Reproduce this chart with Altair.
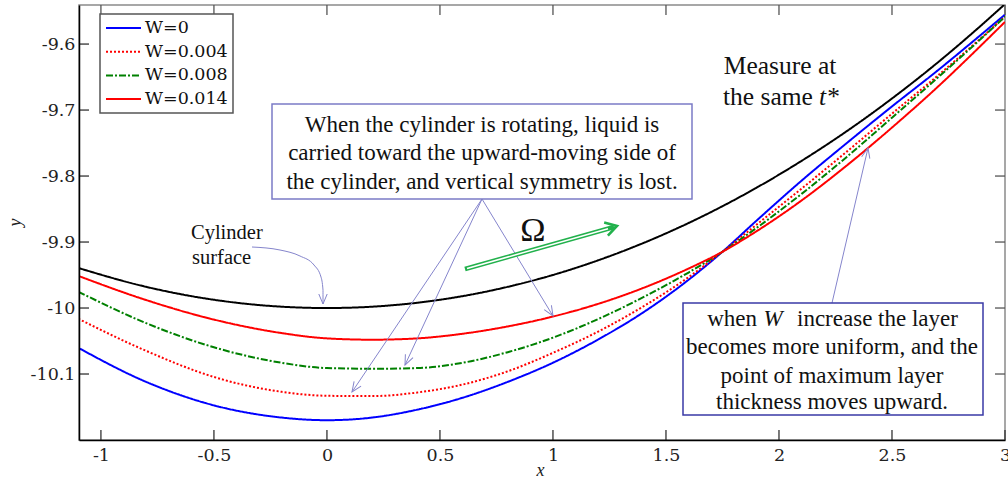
import math
import altair as alt
import pandas as pd

# ---------------- data ----------------
x_vals = [-1.1, -0.8, -0.5, -0.2, 0.0, 0.2, 0.4, 0.6, 0.8, 1.0, 1.2, 1.4, 1.6, 1.75,
          1.9, 2.1, 2.3, 2.5, 2.7, 2.9, 3.0]
y_surface = [-9.9393, -9.9679, -9.9875, -9.9980, -10.0000, -9.9980, -9.9920, -9.9820,
             -9.9679, -9.9499, -9.9277, -9.9015, -9.8712, -9.8457, -9.8178, -9.7770,
             -9.7320, -9.6825, -9.6286, -9.5701, -9.5394]
y_w0 = [-10.0603, -10.1119, -10.1475, -10.1660, -10.1700, -10.1660, -10.1540, -10.1360,
        -10.1119, -10.0829, -10.0477, -10.0065, -9.9572, -9.9147, -9.8678, -9.8070,
        -9.7500, -9.6945, -9.6406, -9.5841, -9.5554]
y_w004 = [-10.0163, -10.0649, -10.1045, -10.1270, -10.1330, -10.1335, -10.1280, -10.1160,
          -10.0959, -10.0679, -10.0357, -9.9975, -9.9532, -9.9147, -9.8738, -9.8190,
          -9.7630, -9.7055, -9.6486, -9.5891, -9.5584]
y_w008 = [-9.9753, -10.0229, -10.0595, -10.0830, -10.0910, -10.0920, -10.0910, -10.0830,
          -10.0669, -10.0449, -10.0167, -9.9835, -9.9462, -9.9147, -9.8788, -9.8270,
          -9.7710, -9.7115, -9.6516, -9.5901, -9.5584]
y_w014 = [-9.9513, -9.9879, -10.0175, -10.0380, -10.0460, -10.0480, -10.0460, -10.0390,
          -10.0279, -10.0129, -9.9937, -9.9695, -9.9402, -9.9147, -9.8838, -9.8370,
          -9.7840, -9.7265, -9.6656, -9.6001, -9.5664]
series_names = ["W=0", "W=0.004", "W=0.008", "W=0.014"]
x_ticks = [-1, -0.5, 0, 0.5, 1, 1.5, 2, 2.5, 3]
y_ticks = [-10.1, -10.0, -9.9, -9.8, -9.7, -9.6]

box1_lines = ["When the cylinder is rotating, liquid is",
              "carried toward the upward-moving side of",
              "the cylinder, and vertical symmetry is lost."]
box2_lines = ["becomes more uniform, and the",
              "point of maximum layer",
              "thickness moves upward."]

# ---------------- layout ----------------
W, H = 926, 435
LEFT, TOP = 79, 5
X_DOM = [-1.097, 3.0]
Y_DOM = [-10.2, -9.5408]
KX = W / (X_DOM[1] - X_DOM[0])
KY = H / (Y_DOM[1] - Y_DOM[0])
xsc = alt.Scale(domain=X_DOM, nice=False, zero=False)
ysc = alt.Scale(domain=Y_DOM, nice=False, zero=False)

SERIF = "Liberation Serif"
TICKFONT = "DejaVu Serif"
TICKSIZE = 17.5


def dx(px):
    return X_DOM[0] + (px - LEFT) / KX


def dy(py):
    return Y_DOM[1] - (py - TOP) / KY


one = pd.DataFrame({"a": [0]})

x_axis = alt.Axis(values=x_ticks, labelExpr="datum.value + ''", ticks=False, grid=False,
                  domainColor="#000", domainWidth=1.5, labelFont=TICKFONT, labelFontSize=TICKSIZE,
                  labelColor="#222", labelPadding=6, labelFlush=False,
                  title="x", titleFont=SERIF, titleFontStyle="italic", titleFontWeight="normal",
                  titleFontSize=18, titleColor="#222", titleX=461, titleY=30,
                  titleBaseline="middle", zindex=1)
y_axis = alt.Axis(values=y_ticks, labelExpr="datum.value + ''", ticks=False, grid=False,
                  domainColor="#000", domainWidth=1.5, labelFont=TICKFONT, labelFontSize=TICKSIZE,
                  labelColor="#222", labelPadding=4, labelFlush=False,
                  title="y", titleFont=SERIF, titleFontStyle="italic", titleFontWeight="normal",
                  titleFontSize=18, titleColor="#222", titleX=-64, titleY=217,
                  titleBaseline="middle", zindex=1)


def curve(yv, color, dash, axes=False):
    df = pd.DataFrame({"x": x_vals, "y": yv})
    if axes:
        enc = dict(x=alt.X("x:Q", scale=xsc, axis=x_axis), y=alt.Y("y:Q", scale=ysc, axis=y_axis))
    else:
        enc = dict(x=alt.X("x:Q", scale=xsc), y=alt.Y("y:Q", scale=ysc))
    return alt.Chart(df).mark_line(color=color, strokeDash=dash, strokeWidth=2,
                                   clip=True, interpolate="monotone").encode(**enc)


series_colors = ["#0000ff", "#ff0000", "#008000", "#ff0000"]
series_dashes = [[1, 0], [2, 2], [7, 2, 2, 2], [1, 0]]
series_y = [y_w0, y_w004, y_w008, y_w014]

layers = [curve(y_surface, "#000000", [1, 0], axes=True)]
for yv, c, d in zip(series_y, series_colors, series_dashes):
    layers.append(curve(yv, c, d))

# inward ticks on all four sides
xt_df = pd.DataFrame({"x": x_ticks})
yt_df = pd.DataFrame({"y": y_ticks})
layers.append(alt.Chart(xt_df).mark_rule(color="#333", strokeWidth=1.3).encode(
    x=alt.X("x:Q", scale=xsc), y=alt.value(H), y2=alt.value(H - 10)))
layers.append(alt.Chart(xt_df).mark_rule(color="#555", strokeWidth=1.3).encode(
    x=alt.X("x:Q", scale=xsc), y=alt.value(0), y2=alt.value(10)))
layers.append(alt.Chart(yt_df).mark_rule(color="#333", strokeWidth=1.3).encode(
    y=alt.Y("y:Q", scale=ysc), x=alt.value(0), x2=alt.value(10)))
layers.append(alt.Chart(yt_df).mark_rule(color="#555", strokeWidth=1.3).encode(
    y=alt.Y("y:Q", scale=ysc), x=alt.value(W), x2=alt.value(W - 10)))

# legend (drawn)
layers.append(alt.Chart(one).mark_rect(fill="white", stroke="#555", strokeWidth=1.5).encode(
    x=alt.value(21), x2=alt.value(154), y=alt.value(9), y2=alt.value(108)))
for i, (name, c, d) in enumerate(zip(series_names, series_colors, series_dashes)):
    yy = 23 + i * 23.7
    layers.append(alt.Chart(one).mark_rule(color=c, strokeDash=d, strokeWidth=2).encode(
        x=alt.value(27), x2=alt.value(62), y=alt.value(yy)))
    layers.append(alt.Chart(one).mark_text(text=name, font=TICKFONT, fontSize=TICKSIZE, color="#111",
                                           align="left", baseline="middle").encode(
        x=alt.value(66), y=alt.value(yy)))

ARROW = "#8585cc"
HEAD = "M-0.42,1L0,0L0.42,1"


def seg(p0, p1, color=ARROW, width=1.0):
    return alt.Chart(one).mark_rule(color=color, strokeWidth=width).encode(
        x=alt.datum(dx(p0[0]), scale=xsc), y=alt.datum(dy(p0[1]), scale=ysc),
        x2=alt.datum(dx(p1[0])), y2=alt.datum(dy(p1[1])))


def head(tip, frm, color=ARROW, size=400, width=1.0, shape=HEAD):
    ang = math.degrees(math.atan2(tip[0] - frm[0], -(tip[1] - frm[1]))) % 360
    return alt.Chart(one).mark_point(shape=shape, size=size, angle=ang, filled=False,
                                     stroke=color, strokeWidth=width, opacity=1).encode(
        x=alt.datum(dx(tip[0]), scale=xsc), y=alt.datum(dy(tip[1]), scale=ysc))


def text(s, px, py, size, align="center", style="normal", font=SERIF):
    return alt.Chart(one).mark_text(text=s, font=font, fontSize=size, fontStyle=style,
                                    align=align, baseline="middle", color="#111").encode(
        x=alt.datum(dx(px), scale=xsc), y=alt.datum(dy(py), scale=ysc))


def box(x0, y0, x1, y1, stroke):
    return alt.Chart(one).mark_rect(fill="white", stroke=stroke, strokeWidth=1.5).encode(
        x=alt.datum(dx(x0), scale=xsc), x2=alt.datum(dx(x1)),
        y=alt.datum(dy(y0), scale=ysc), y2=alt.datum(dy(y1)))


# arrows from box 1
apex = (482, 199)
for tip in [(352, 392), (405, 365), (553, 316)]:
    layers.append(seg(apex, tip))
    layers.append(head(tip, apex))
# arrow from box 2
b2 = (832, 303)
t2 = (868, 148)
layers.append(seg(b2, t2))
layers.append(head(t2, b2))

# curved "cylinder surface" arrow
cyl_pts = [(252, 247), (280, 250), (300, 256), (314, 265), (321, 277), (323, 290), (323, 304)]
cyl_df = pd.DataFrame({"x": [dx(p[0]) for p in cyl_pts], "y": [dy(p[1]) for p in cyl_pts],
                       "o": list(range(len(cyl_pts)))})
layers.append(alt.Chart(cyl_df).mark_line(color=ARROW, strokeWidth=1.0, interpolate="monotone").encode(
    x=alt.X("x:Q", scale=xsc), y=alt.Y("y:Q", scale=ysc), order="o:Q"))
layers.append(head((323, 304), (323, 290)))

# Omega rotation arrow (double green line)
g0, g1 = (465, 269), (614, 227)
GREEN = "#22b14c"
layers.append(seg(g0, g1, color=GREEN, width=4.6))
layers.append(seg((467, 268.5), (608, 228.7), color="white", width=1.5))
layers.append(head((617, 226), g0, color=GREEN, size=520, width=2.6, shape="M-0.6,1L0,0L0.6,1"))

# boxes
layers.append(box(272, 104, 692, 199, "#7b7bc6"))
layers.append(box(683, 303, 983, 415, "#3a3aa6"))

# texts
for s, py in zip(box1_lines, [125, 153, 182]):
    layers.append(text(s, 482, py, 23))
layers.append(text("when", 757, 319, 23, align="right"))
layers.append(text("W", 773, 319, 23, style="italic"))
layers.append(text("increase the layer", 797, 319, 23, align="left"))
for s, py in zip(box2_lines, [347, 376, 402]):
    layers.append(text(s, 832, py, 23))
layers.append(text("Cylinder", 191, 233, 20.5, align="left"))
layers.append(text("surface", 192, 258, 20.5, align="left"))
layers.append(text("Ω", 533, 231, 34))
layers.append(text("Measure at", 780, 66, 25.5))
layers.append(text("the same", 723, 97, 25.5, align="left"))
layers.append(text("t*", 819, 97, 25.5, align="left", style="italic"))

chart = alt.layer(*layers).properties(
    width=W, height=H,
    autosize=alt.AutoSizeParams(type="none"),
    padding={"left": LEFT, "top": TOP, "right": 1008 - LEFT - W, "bottom": 483 - TOP - H},
    background="white",
).configure_view(stroke="#8a8a8a", strokeWidth=1.5)

chart.save("out.html", embed_options={"renderer": "svg", "actions": False})
